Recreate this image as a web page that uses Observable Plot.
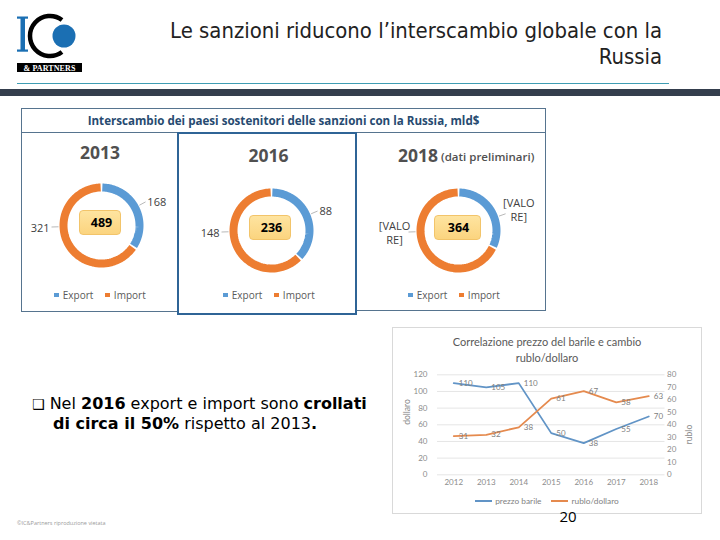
<!DOCTYPE html>
<html><head><meta charset="utf-8">
<script src="https://cdn.jsdelivr.net/npm/d3@7"></script>
<script src="https://cdn.jsdelivr.net/npm/@observablehq/plot@0.6"></script>
<style>
body{margin:0;background:#fff;}
#slide{position:relative;width:720px;height:540px;overflow:hidden;font-family:"Open Sans",sans-serif;background:#fff;}
.abs{position:absolute;white-space:nowrap;}
.box{position:absolute;box-sizing:border-box;}
</style></head><body><div id="slide"></div>
<script>
// ---------- data ----------
const donutYears = ["2013", "2016", "2018"];
const exportValues = [168, 88, 117];
const importValues = [321, 148, 247];
const totalValues = [489, 236, 364];
const exportLabels = ["168", "88", "[VALO\nRE]"];
const importLabels = ["321", "148", "[VALO\nRE]"];
const seriesNames = ["Export", "Import"];

const lineYears = [2012, 2013, 2014, 2015, 2016, 2017, 2018];
const oilPrice = [110, 105, 110, 50, 38, 55, 70];
const rubUsd = [31, 32, 38, 61, 67, 58, 63];
const leftTicks = [0, 20, 40, 60, 80, 100, 120];
const rightTicks = [0, 10, 20, 30, 40, 50, 60, 70, 80];
const lineNames = ["prezzo barile", "rublo/dollaro"];

// ---------- helpers ----------
const BLUE = "#5b9bd5", ORANGE = "#ed7d31";
const slide = document.getElementById("slide");
function el(tag, cls, css, html) {
  const e = document.createElement(tag);
  if (cls) e.className = cls;
  Object.assign(e.style, css);
  if (html != null) e.innerHTML = html;
  slide.appendChild(e);
  return e;
}

// ---------- header ----------
const logo = `<svg width="90" height="80" xmlns="http://www.w3.org/2000/svg">
 <rect x="20.5" y="17" width="4.5" height="34" fill="#1b6fb3"/>
 <rect x="17" y="16.5" width="11" height="2.2" fill="#1b6fb3"/>
 <rect x="17" y="49.5" width="11" height="2.2" fill="#1b6fb3"/>
 <path d="M62 20 A20 20 0 1 0 62 52" fill="none" stroke="#000" stroke-width="4.5"/>
 <circle cx="64" cy="36" r="11.5" fill="#1b6fb3"/>
 <rect x="17" y="63" width="65" height="9" fill="#000"/>
 <text x="49.5" y="70.5" fill="#fff" font-family="Liberation Serif" font-weight="bold" font-size="8" text-anchor="middle" letter-spacing="0.1">&amp; PARTNERS</text>
</svg>`;
el("div", "abs", {left: "0px", top: "0px"}, logo);

el("div", "abs", {right: "58px", top: "17.5px", fontFamily: "'DejaVu Sans Condensed'", fontSize: "21.9px", lineHeight: "26px", color: "#222", textAlign: "right"},
  "Le sanzioni riducono l’interscambio globale con la<br>Russia");
el("div", "box", {left: "17px", top: "82.5px", width: "652px", height: "1.3px", background: "#3f9db3"});
el("div", "box", {left: "0px", top: "89px", width: "720px", height: "7px", background: "#343e4d"});

// ---------- donut panel frame ----------
el("div", "box", {left: "21px", top: "108px", width: "525px", height: "25px", border: "1px solid #56748f"});
el("div", "abs", {left: "21px", top: "108px", width: "525px", height: "25px", lineHeight: "25px", textAlign: "center", fontWeight: "bold", fontSize: "11.6px", color: "#274a70"},
  "Interscambio dei paesi sostenitori delle sanzioni con la Russia, mld$");
el("div", "box", {left: "21px", top: "132px", width: "158px", height: "180px", border: "1px solid #56748f"});
el("div", "box", {left: "355px", top: "132px", width: "191px", height: "179px", border: "1px solid #56748f"});
el("div", "box", {left: "177px", top: "132px", width: "180px", height: "183px", border: "2px solid #2f6496"});

const centers = [[101, 225], [270.5, 229.5], [458, 229.5]];
const yearPos = [[100, 152], [268.5, 155], [418, 155]];
const legendCenters = [100, 269, 454];

function donutPlot(i) {
  const slices = seriesNames.map((k, j) => ({key: k, value: j === 0 ? exportValues[i] : importValues[i], label: j === 0 ? exportLabels[i] : importLabels[i]}));
  const arcs = d3.pie().sort(null).value(d => d.value)(slices);
  const R = 38, pad = 0.022, n = 72;
  const ring = arcs.flatMap(a => d3.range(n + 1).map(k => {
    const t = a.startAngle + pad + (a.endAngle - a.startAngle - 2 * pad) * k / n;
    return {key: a.data.key, x: R * Math.sin(t), y: -R * Math.cos(t)};
  }));
  const labels = arcs.map(a => {
    const multi = a.data.label.includes("\n");
    const ang = a.data.key === "Import" ? 1.5 * Math.PI - 0.03 : (a.startAngle + a.endAngle) / 2 + (multi ? 0.22 : 0);
    const s = Math.sin(ang), c = -Math.cos(ang);
    const rl = multi ? 64 : 52;
    return {text: a.data.label, x1: 43 * s, y1: 43 * c, x2: 50 * s, y2: 50 * c, tx: rl * s, ty: rl * c,
      anchor: multi ? "middle" : (s > 0 ? "start" : "end")};
  });
  const textOpts = {x: "tx", y: "ty", text: "text", fontSize: 11, fill: "#404040", lineHeight: 1.3};
  return Plot.plot({
    width: 180, height: 120, margin: 0,
    x: {domain: [-90, 90], range: [0, 180], axis: null},
    y: {domain: [-60, 60], range: [0, 120], axis: null},
    color: {domain: seriesNames, range: [BLUE, ORANGE]},
    style: {background: "transparent", fontFamily: "Open Sans", overflow: "visible"},
    marks: [
      Plot.line(ring, {x: "x", y: "y", z: "key", stroke: "key", strokeWidth: 8, strokeLinecap: "butt", strokeLinejoin: "round"}),
      Plot.link(labels, {x1: "x1", y1: "y1", x2: "x2", y2: "y2", stroke: "#a6a6a6", strokeWidth: 0.8}),
      Plot.text(labels.filter(d => d.anchor === "start"), {...textOpts, textAnchor: "start"}),
      Plot.text(labels.filter(d => d.anchor === "end"), {...textOpts, textAnchor: "end"}),
      Plot.text(labels.filter(d => d.anchor === "middle"), {...textOpts, textAnchor: "middle"}),
      Plot.text([totalValues[i]], {frameAnchor: "middle", dy: -2.5, text: d => String(d), fontWeight: "bold", fontSize: 12.5, fill: "#000"})
    ]
  });
}

donutYears.forEach((yr, i) => {
  const [cx, cy] = centers[i];
  const bw = i === 2 ? 47 : 42;
  el("div", "box", {left: (cx - bw / 2 - 1) + "px", top: (cy - 15) + "px", width: bw + "px", height: "25px", borderRadius: "4px",
    border: "1px solid #f2c46a", background: "linear-gradient(#fee4a0, #fbd47f)"});
  const svg = donutPlot(i);
  svg.style.position = "absolute";
  svg.style.left = (cx - 90) + "px";
  svg.style.top = (cy - 60) + "px";
  slide.appendChild(svg);
  const [yx, yy] = yearPos[i];
  el("div", "abs", {left: (yx - 40) + "px", width: "80px", textAlign: "center", top: (yy - 14) + "px", lineHeight: "28px", fontSize: "17.5px", fontWeight: "bold", color: "#505050"}, yr);
  const lg = el("div", "abs", {left: (legendCenters[i] - 60) + "px", width: "120px", top: "287px", lineHeight: "16px", display: "flex", justifyContent: "center", alignItems: "center", fontSize: "10px", color: "#595959"});
  lg.innerHTML = seriesNames.map((k, j) => `<span style="display:inline-block;width:4.5px;height:4.5px;background:${j ? ORANGE : BLUE};margin:0 4px 0 ${j ? 12 : 0}px"></span>${k}`).join("");
});
el("div", "abs", {left: "441px", top: "148px", lineHeight: "18px", fontSize: "11.5px", fontWeight: "600", color: "#505050"}, "(dati preliminari)");

// ---------- bullet text ----------
el("div", "abs", {left: "32px", top: "394px", fontFamily: "'DejaVu Sans'", fontSize: "16px", lineHeight: "20px", color: "#000"},
  "<span style='font-size:14px'>❑</span> Nel <b>2016</b> export e import sono <b>crollati</b><br><span style='padding-left:21px'></span><b>di circa il 50%</b> rispetto al 2013<b>.</b>");
el("div", "abs", {left: "17px", top: "519px", fontSize: "5.5px", color: "#9a9a9a"}, "©IC&amp;Partners riproduzione vietata");

// ---------- line chart ----------
el("div", "box", {left: "392px", top: "327px", width: "310px", height: "187px", border: "1px solid #d9d9d9"});
el("div", "abs", {left: "392px", width: "310px", textAlign: "center", top: "334px", lineHeight: "15.5px", fontFamily: "Lato", fontSize: "11px", color: "#595959"},
  "Correlazione prezzo del barile e cambio<br>rublo/dollaro");

const oilData = lineYears.map((y, i) => ({year: y, v: oilPrice[i], label: oilPrice[i]}));
const rubData = lineYears.map((y, i) => ({year: y, v: rubUsd[i] * 120 / 80, label: rubUsd[i]}));
const LBLUE = "#6194c6", LORANGE = "#e58a4e";
const lineSvg = Plot.plot({
  width: 310, height: 186,
  marginLeft: 45, marginRight: 37.5, marginTop: 47.3, marginBottom: 38.7,
  x: {domain: [2011.5, 2018.5], axis: null},
  y: {domain: [0, 120], axis: null},
  style: {background: "transparent", fontFamily: "Lato", color: "#8c8c8c", overflow: "visible"},
  marks: [
    Plot.ruleY(leftTicks, {stroke: "#dedede", strokeWidth: 0.8}),
    Plot.axisX({ticks: lineYears, tickFormat: d => String(d), tickSize: 0, tickPadding: 5, fontSize: 8, label: null}),
    Plot.axisY({ticks: leftTicks, tickSize: 0, tickPadding: 10, fontSize: 8, label: null}),
    Plot.axisY({anchor: "right", ticks: rightTicks.map(v => v * 120 / 80), tickFormat: d => String(Math.round(d * 80 / 120)), tickSize: 0, tickPadding: 2, fontSize: 8, label: null}),
    Plot.line(oilData, {x: "year", y: "v", stroke: LBLUE, strokeWidth: 1.8}),
    Plot.line(rubData, {x: "year", y: "v", stroke: LORANGE, strokeWidth: 1.8}),
    Plot.text(oilData, {x: "year", y: "v", text: d => String(d.label), dx: 5, textAnchor: "start", fontSize: 8, fill: "#808080"}),
    Plot.text(rubData, {x: "year", y: "v", text: d => String(d.label), dx: 5, textAnchor: "start", fontSize: 8, fill: "#808080"}),
    Plot.text(["dollaro"], {frameAnchor: "left", dx: -30, rotate: -90, text: d => d, fontSize: 8.5, fill: "#8c8c8c"}),
    Plot.text(["rublo"], {frameAnchor: "right", dx: 24, rotate: -90, text: d => d, fontSize: 8.5, fill: "#8c8c8c"})
  ]
});
lineSvg.style.position = "absolute";
lineSvg.style.left = "392px";
lineSvg.style.top = "327px";
slide.appendChild(lineSvg);

const lleg = el("div", "abs", {left: "392px", width: "310px", top: "494px", lineHeight: "14px", display: "flex", justifyContent: "center", alignItems: "center", fontFamily: "Lato", fontSize: "8.3px", color: "#7f7f7f"});
lleg.innerHTML = lineNames.map((k, j) => `<span style="display:inline-block;width:17px;height:2px;background:${j ? LORANGE : LBLUE};margin:0 3px 0 ${j ? 10 : 0}px"></span>${k}`).join("");

el("div", "abs", {left: "548px", width: "40px", textAlign: "center", top: "505px", lineHeight: "22px", fontSize: "15px", color: "#000"}, "20");
</script></body></html>
